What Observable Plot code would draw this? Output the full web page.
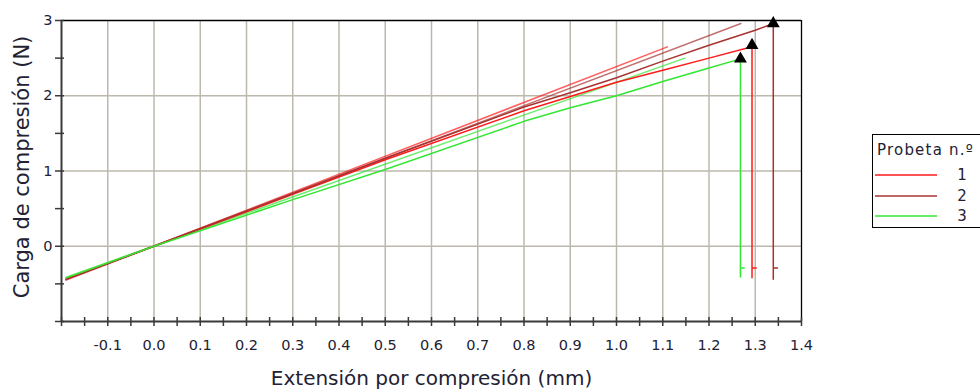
<!DOCTYPE html>
<html>
<head>
<meta charset="utf-8">
<script src="https://cdn.jsdelivr.net/npm/d3@7"></script>
<script src="https://cdn.jsdelivr.net/npm/@observablehq/plot@0.6"></script>
<style>
  html, body { margin: 0; padding: 0; background: #fff; overflow: hidden; }
  #wrap { position: relative; width: 980px; height: 390px; font-family: "DejaVu Sans", Verdana, sans-serif; }
  #legend { position: absolute; left: 872px; top: 134px; width: 130px; height: 94px; border: 1px solid #000; background: #fff; box-sizing: border-box; }
  #legend .title { position: absolute; left: 4px; top: 6px; font-size: 15px; letter-spacing: 1.2px; color: #222233; white-space: nowrap; }
  #legend svg { position: absolute; left: 0; top: 0; }
</style>
</head>
<body>
<div id="wrap"><div id="legend"></div></div>
<script>
// ---- Data ----
const probetas = ["1", "2", "3"];
const colors = ["#ff1a1a", "#a83232", "#33e633"];

// Measured curves (extension mm, load N), incl. drop after rupture
const ext1  = [-0.19, 0, 0.1, 0.3, 0.5, 0.8, 0.9, 1.0, 1.1, 1.2, 1.293, 1.293, 1.293, 1.302];
const load1 = [-0.43, 0, 0.23, 0.69, 1.15, 1.80, 1.99, 2.18, 2.34, 2.50, 2.65, -0.42, -0.29, -0.29];
const ext2  = [-0.19, 0, 0.3, 0.5, 0.8, 0.9, 1.0, 1.1, 1.2, 1.3, 1.339, 1.339, 1.339, 1.348];
const load2 = [-0.44, 0, 0.70, 1.17, 1.85, 2.04, 2.24, 2.46, 2.67, 2.87, 2.96, -0.44, -0.29, -0.29];
const ext3  = [-0.19, 0, 0.3, 0.5, 0.8, 0.9, 1.0, 1.1, 1.2, 1.268, 1.268, 1.268, 1.276];
const load3 = [-0.42, 0, 0.62, 1.02, 1.66, 1.84, 2.00, 2.19, 2.37, 2.49, -0.41, -0.29, -0.29];

// Straight reference (slope) lines
const fitExt1 = [-0.19, 1.11],  fitLoad1 = [-0.45, 2.65];
const fitExt2 = [-0.19, 1.269], fitLoad2 = [-0.44, 2.96];
const fitExt3 = [-0.19, 1.148], fitLoad3 = [-0.41, 2.50];

// Rupture markers
const peakExt  = [1.293, 1.339, 1.268];
const peakLoad = [2.67, 2.96, 2.49];

// Axes
const xTickLabels = [-0.1, 0.0, 0.1, 0.2, 0.3, 0.4, 0.5, 0.6, 0.7, 0.8, 0.9, 1.0, 1.1, 1.2, 1.3, 1.4];
const xMinorTicks = [-0.2, -0.15, -0.1, -0.05, 0, 0.05, 0.1, 0.15, 0.2, 0.25, 0.3, 0.35, 0.4, 0.45, 0.5, 0.55, 0.6, 0.65, 0.7, 0.75, 0.8, 0.85, 0.9, 0.95, 1.0, 1.05, 1.1, 1.15, 1.2, 1.25, 1.3, 1.35, 1.4];
const xGrid = [-0.1, 0.0, 0.1, 0.2, 0.3, 0.4, 0.5, 0.6, 0.7, 0.8, 0.9, 1.0, 1.1, 1.2, 1.3];
const yTickLabels = [0, 1, 2, 3];
const yMinorTicks = [-1, -0.5, 0, 0.5, 1, 1.5, 2, 2.5, 3];
const yGrid = [0, 1, 2];

// ---- Build tables ----
const zipRows = (xs, ys, p) => xs.map((x, i) => ({x, y: ys[i], p}));
const curves = [
  ...zipRows(ext1, load1, "1"),
  ...zipRows(ext2, load2, "2"),
  ...zipRows(ext3, load3, "3")
];
const fits = [
  ...zipRows(fitExt1, fitLoad1, "1"),
  ...zipRows(fitExt2, fitLoad2, "2"),
  ...zipRows(fitExt3, fitLoad3, "3")
];
const peaks = zipRows(peakExt, peakLoad, "");

const textColor = "#222233";
const chart = Plot.plot({
  width: 980,
  height: 390,
  marginLeft: 61,
  marginRight: 179,
  marginTop: 20,
  marginBottom: 69,
  style: {fontFamily: "DejaVu Sans, Verdana, sans-serif", background: "transparent", overflow: "visible"},
  x: {domain: [-0.2, 1.4], axis: null},
  y: {domain: [-1, 3], axis: null},
  color: {domain: probetas, range: colors},
  marks: [
    Plot.gridX(xGrid, {stroke: "#bcb8ac", strokeOpacity: 1, strokeWidth: 1.5}),
    Plot.gridY(yGrid, {stroke: "#bcb8ac", strokeOpacity: 1, strokeWidth: 1.5}),
    Plot.ruleY([3], {stroke: "#000", strokeWidth: 1.3}),
    Plot.ruleX([1.4], {stroke: "#000", strokeWidth: 1.3}),
    Plot.line(fits, {x: "x", y: "y", z: "p", stroke: "p", strokeWidth: 1.5, strokeOpacity: 0.7}),
    Plot.line(curves, {x: "x", y: "y", z: "p", stroke: "p", strokeWidth: 1.5}),
    Plot.dot(peaks, {x: "x", y: "y", symbol: "triangle", r: 4.8, fill: "#000", stroke: "none"}),
    Plot.ruleX([-0.2], {stroke: "#3a3a3a", strokeWidth: 2}),
    Plot.ruleY([-1], {stroke: "#3a3a3a", strokeWidth: 2}),
    Plot.axisX(xMinorTicks, {tickSize: 9, dy: -4, tickFormat: () => "", label: null, stroke: "#3a3a3a", strokeWidth: 1.5}),
    Plot.axisY(yMinorTicks, {tickSize: 9, dx: 3, tickFormat: () => "", label: null, stroke: "#3a3a3a", strokeWidth: 1.5}),
    Plot.text(xTickLabels, {x: d => d, y: -1, dy: 24, text: d => d3.format(".1f")(d).replace("−", "-"), fontSize: 14.5, fill: textColor, lineAnchor: "middle", ariaLabel: "xticklabels"}),
    Plot.text(yTickLabels, {x: -0.2, y: d => d, dx: -9, text: d => String(d), fontSize: 14.5, fill: textColor, textAnchor: "end", lineAnchor: "middle", ariaLabel: "yticklabels"}),
    Plot.text(["Extensión por compresión (mm)"], {frameAnchor: "bottom", dy: 57, fontSize: 20, fill: textColor, textAnchor: "middle", lineAnchor: "middle"}),
    Plot.text(["Carga de compresión (N)"], {frameAnchor: "left", dx: -39, dy: -4, rotate: -90, fontSize: 21, fill: textColor, textAnchor: "middle", lineAnchor: "middle"})
  ]
});
chart.querySelectorAll('g[aria-label="xticklabels"] text, g[aria-label="yticklabels"] text')
  .forEach(t => t.setAttribute("letter-spacing", "1.8"));
chart.style.position = "absolute";
chart.style.left = "0px";
chart.style.top = "0px";
const wrap = document.getElementById("wrap");
wrap.insertBefore(chart, wrap.firstChild);

// ---- Legend ----
const legend = d3.select("#legend");
legend.append("div").attr("class", "title").text("Probeta n.º");
const lsvg = legend.append("svg").attr("width", 130).attr("height", 94);
const rowY = [40, 61, 81];
probetas.forEach((p, i) => {
  lsvg.append("line").attr("x1", 2).attr("x2", 64).attr("y1", rowY[i]).attr("y2", rowY[i])
    .attr("stroke", colors[i]).attr("stroke-width", 1.5);
  lsvg.append("text").attr("x", 89).attr("y", rowY[i] + 5).attr("text-anchor", "middle")
    .attr("font-size", 15).attr("fill", textColor).text(p);
});
</script>
</body>
</html>
